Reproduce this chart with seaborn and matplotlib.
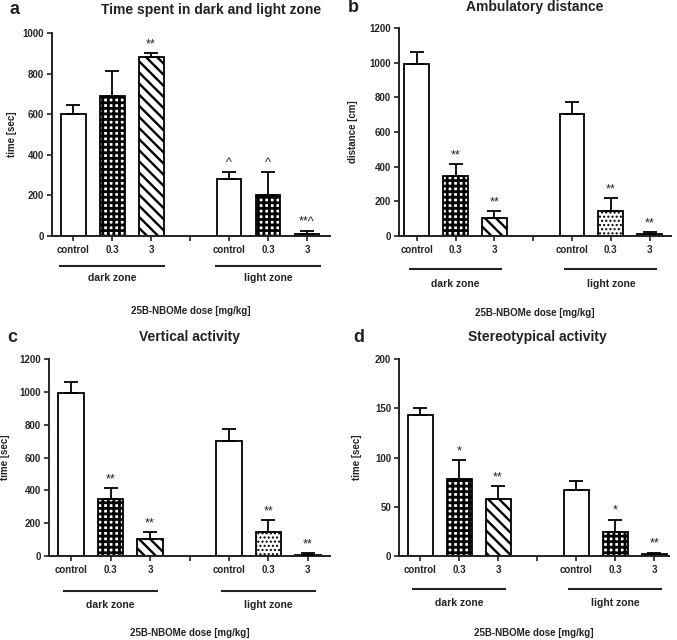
import numpy as np
import pandas as pd
import seaborn as sns
import matplotlib
matplotlib.use("Agg")
import matplotlib.pyplot as plt
import matplotlib.transforms as mtransforms

# ---------------- data ----------------
order_keys = ["dark|control", "dark|0.3", "dark|3", "gap",
              "light|control", "light|0.3", "light|3"]
bar_keys = ["dark|control", "dark|0.3", "dark|3",
            "light|control", "light|0.3", "light|3"]
tick_labels = ["control", "0.3", "3", "", "control", "0.3", "3"]
zones = ["dark zone", "light zone"]
dose_label = "25B-NBOMe dose [mg/kg]"

a_title = "Time spent in dark and light zone"
a_ylabel = "time [sec]"
a_means = [600, 690, 882, 279, 200, 12]
a_sems = [45, 123, 20, 37, 116, 14]
a_marks = ["", "", "**", "^", "^", "**^"]
a_yticks = [0, 200, 400, 600, 800, 1000]

b_title = "Ambulatory distance"
b_ylabel = "distance [cm]"
b_means = [993, 349, 102, 703, 147, 10]
b_sems = [68, 65, 43, 72, 71, 13]
b_marks = ["", "**", "**", "", "**", "**"]
b_yticks = [0, 200, 400, 600, 800, 1000, 1200]

c_title = "Vertical activity"
c_ylabel = "time [sec]"
c_means = [993, 348, 104, 702, 148, 8]
c_sems = [68, 65, 40, 73, 71, 10]
c_marks = ["", "**", "**", "", "**", "**"]
c_yticks = [0, 200, 400, 600, 800, 1000, 1200]

d_title = "Stereotypical activity"
d_ylabel = "time [sec]"
d_means = [143, 78, 57.5, 67, 24, 1.7]
d_sems = [7, 19, 13.5, 9, 13, 1.7]
d_marks = ["", "*", "**", "", "*", "**"]
d_yticks = [0, 50, 100, 150, 200]

# ---------------- style ----------------
W, H = 677, 640
sns.set_style("ticks")
plt.rcParams["font.family"] = ["Liberation Sans", "DejaVu Sans"]
plt.rcParams["hatch.color"] = "black"

CHECK = ("+++", 2.0)
DOTS = ("....", 1.0)
STRIPE = ("\\\\\\", 1.7)

panels = [
    dict(letter="a", title=a_title, ylabel=a_ylabel, means=a_means, sems=a_sems,
         marks=a_marks, yticks=a_yticks,
         box=(52, 330, 33, 236), xlim=(-0.54, 6.59),
         hatches=[None, CHECK, STRIPE, None, CHECK, STRIPE],
         title_xy=(211, 10), letter_xy=(15, 9), ylabel_x=12,
         offs=(30, 42, 75), hw=1.35),
    dict(letter="b", title=b_title, ylabel=b_ylabel, means=b_means, sems=b_sems,
         marks=b_marks, yticks=b_yticks,
         box=(399, 671, 28, 236), xlim=(-0.46, 6.55),
         hatches=[None, CHECK, STRIPE, None, DOTS, STRIPE],
         title_xy=(535, 7), letter_xy=(353, 7), ylabel_x=353,
         offs=(33, 48, 77), hw=1.2),
    dict(letter="c", title=c_title, ylabel=c_ylabel, means=c_means, sems=c_sems,
         marks=c_marks, yticks=c_yticks,
         box=(49, 330, 359, 556), xlim=(-0.56, 6.56),
         hatches=[None, CHECK, STRIPE, None, DOTS, STRIPE],
         title_xy=(190, 337), letter_xy=(12, 337), ylabel_x=5,
         offs=(35, 49, 77), hw=1.2),
    dict(letter="d", title=d_title, ylabel=d_ylabel, means=d_means, sems=d_sems,
         marks=d_marks, yticks=d_yticks,
         box=(399, 669, 359, 556), xlim=(-0.54, 6.38),
         hatches=[None, CHECK, STRIPE, None, CHECK, STRIPE],
         title_xy=(537, 337), letter_xy=(359, 337), ylabel_x=357,
         offs=(33, 47, 77), hw=1.2),
]

fig = plt.figure(figsize=(W / 100, H / 100), dpi=100)
positions = [order_keys.index(k) for k in bar_keys]

for P in panels:
    l, r, t, b = P["box"]
    ax = fig.add_axes([l / W, 1 - b / H, (r - l) / W, (b - t) / H])
    df = pd.DataFrame({"key": bar_keys, "value": P["means"]})
    sns.barplot(data=df, x="key", y="value", order=order_keys, color="white",
                saturation=1, edgecolor="black", linewidth=1.3, width=0.64,
                errorbar=None, ax=ax)
    for p in ax.patches:
        cx = p.get_x() + p.get_width() / 2
        idx = positions.index(int(round(cx)))
        h = P["hatches"][idx]
        p.set_facecolor("white")
        if h is not None:
            p.set_hatch(h[0])
            if hasattr(p, "set_hatch_linewidth"):
                p.set_hatch_linewidth(h[1])
    ax.errorbar(positions, P["means"], yerr=[np.zeros(6), P["sems"]], fmt="none",
                ecolor="black", elinewidth=1.3, capsize=4.7, capthick=1.3, zorder=3)
    for x, m, s, txt in zip(positions, P["means"], P["sems"], P["marks"]):
        if txt:
            ax.annotate(txt, xy=(x, m + s), xytext=(0, 2), textcoords="offset points",
                        ha="center", va="bottom", fontsize=9, color="#222222")
    ax.set_xlim(*P["xlim"])
    ax.set_ylim(P["yticks"][0], P["yticks"][-1])
    ax.set_yticks(P["yticks"])
    ax.set_yticklabels([str(v) for v in P["yticks"]], fontsize=7, fontweight="bold")
    ax.set_xticks(range(7))
    ax.set_xticklabels(tick_labels, fontsize=7, fontweight="bold")
    ax.set_xlabel("")
    ax.set_ylabel("")
    sns.despine(ax=ax)
    for sp in ("left", "bottom"):
        ax.spines[sp].set_linewidth(1.4)
        ax.spines[sp].set_color("#222222")
    ax.tick_params(axis="both", direction="out", length=3.5, width=1.2,
                   color="#222222", pad=2)
    ax.tick_params(axis="x", pad=3)

    trans = ax.get_xaxis_transform()
    line_off, text_off, lab_off = P["offs"]
    line_tr = mtransforms.offset_copy(trans, fig=fig, y=-line_off, units="dots")
    text_tr = mtransforms.offset_copy(trans, fig=fig, y=-text_off, units="dots")
    for cgrp, zone in zip([1, 5], zones):
        ax.plot([cgrp - P["hw"], cgrp + P["hw"]], [0, 0], transform=line_tr,
                color="#222222", lw=1.5, clip_on=False, solid_capstyle="butt")
        ax.text(cgrp, 0, zone, transform=text_tr, ha="center", va="center",
                fontsize=7.5, fontweight="bold", color="#222222")
    lab_tr = mtransforms.offset_copy(ax.transAxes, fig=fig, y=-lab_off, units="dots")
    ax.text(0.5, 0, dose_label, transform=lab_tr, ha="center", va="center",
            fontsize=7, fontweight="bold", color="#222222")

    fig.text(P["title_xy"][0] / W, 1 - P["title_xy"][1] / H, P["title"],
             ha="center", va="center", fontsize=10, fontweight="bold", color="#222222")
    fig.text(P["letter_xy"][0] / W, 1 - P["letter_xy"][1] / H, P["letter"],
             ha="center", va="center", fontsize=13, fontweight="bold", color="#222222")
    fig.text(P["ylabel_x"] / W, 1 - ((t + b) / 2) / H, P["ylabel"], rotation=90,
             ha="center", va="center", fontsize=7, fontweight="bold", color="#222222")

fig.savefig("out.png", dpi=100)
